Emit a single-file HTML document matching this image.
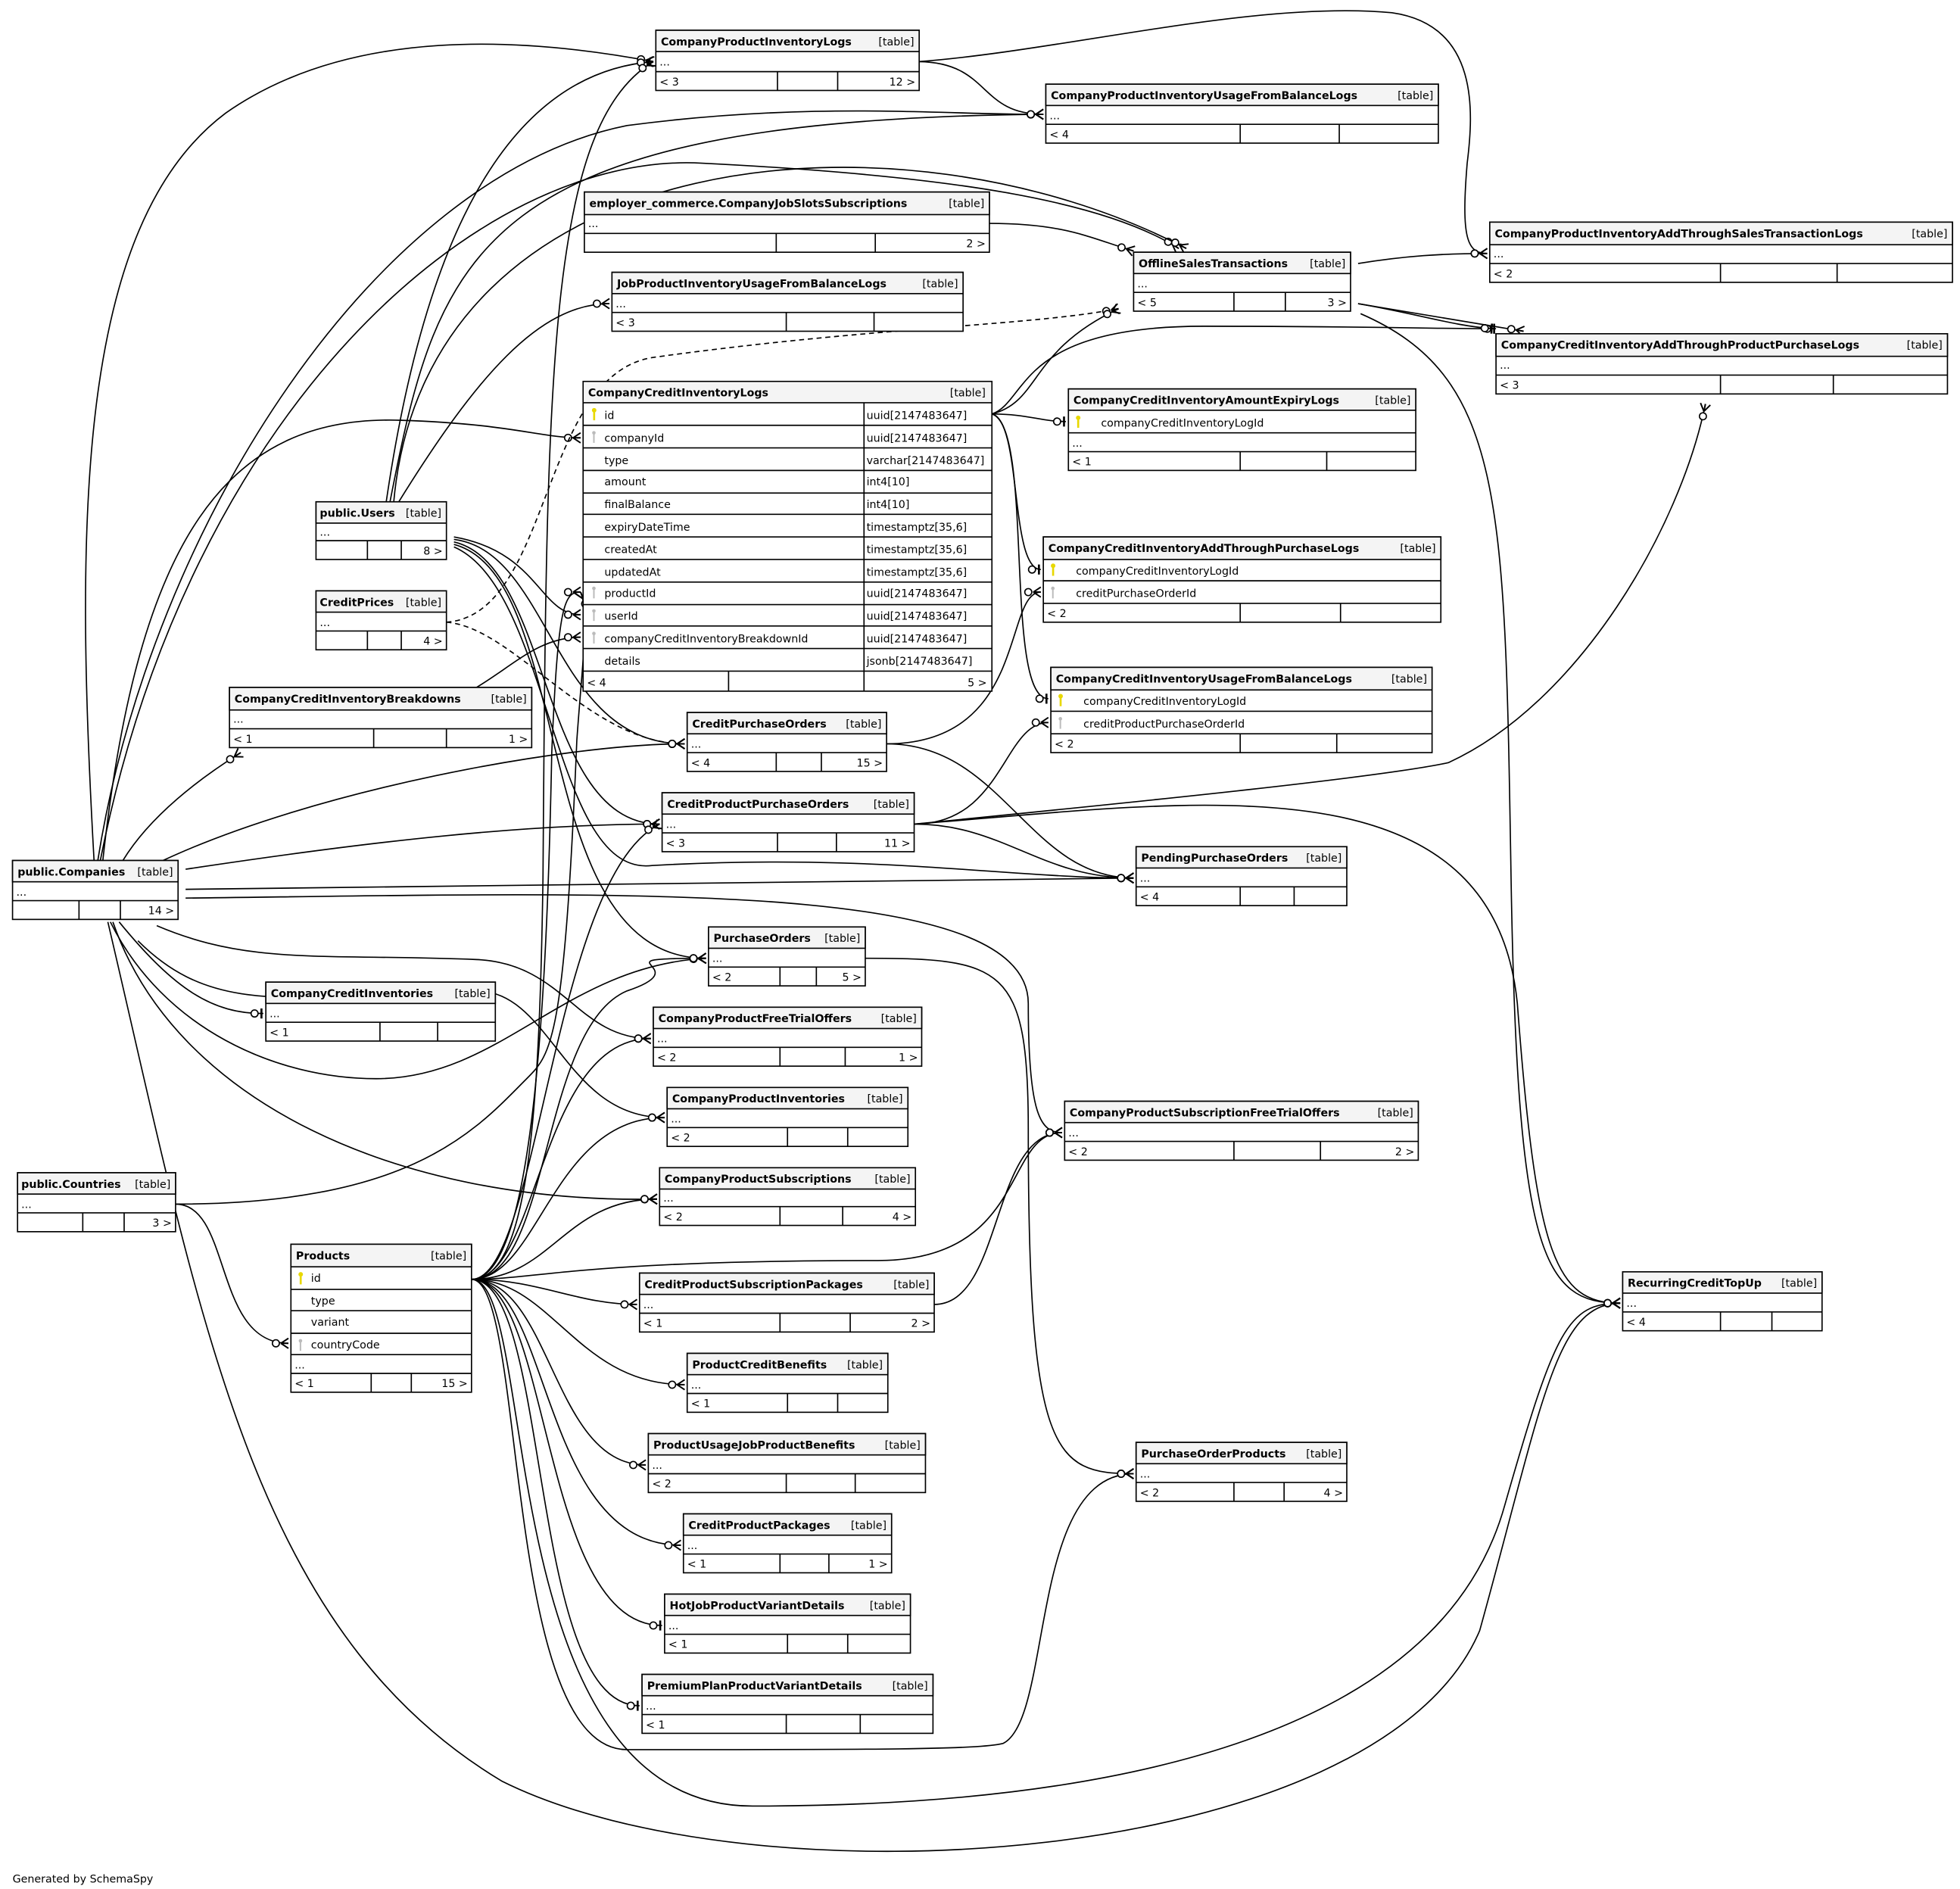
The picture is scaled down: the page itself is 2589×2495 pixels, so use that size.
<!DOCTYPE html>
<html><head><meta charset="utf-8"><style>
html,body{margin:0;padding:0;background:#fff}
svg{display:block}
text{font-family:"DejaVu Sans","Liberation Sans",sans-serif;font-size:8.6px;fill:#000}
.t{font-weight:bold}
.e{text-anchor:end}
.ln path{fill:none;stroke:#000;stroke-width:1}
.tb rect,.tb line{stroke:#000;stroke-width:1}
.tb .k,.tb .f{stroke:none}
.tb .k{fill:#e8d800}
.tb .f{fill:#bbb}
</style></head><body>
<svg width="2589" height="2495" viewBox="0 0 1563 1506" xmlns="http://www.w3.org/2000/svg">
<defs>
<marker id="m" markerUnits="userSpaceOnUse" markerWidth="16" markerHeight="12" viewBox="-13 -6 16 12" refX="0" refY="0" orient="auto" overflow="visible">
<circle cx="-10" cy="0" r="2.8" fill="#fff" stroke="#000" stroke-width="1"/>
<path d="M-6,0 L0,-4 M-6,0 L0,0 M-6,0 L0,4" stroke="#000" stroke-width="1.2" fill="none"/>
</marker>
<marker id="o" markerUnits="userSpaceOnUse" markerWidth="16" markerHeight="12" viewBox="-13 -6 16 12" refX="0" refY="0" orient="auto" overflow="visible">
<circle cx="-7" cy="0" r="2.8" fill="#fff" stroke="#000" stroke-width="1"/>
<path d="M-1.5,-4 L-1.5,4" stroke="#000" stroke-width="1.6"/>
</marker>
</defs>
<rect width="1563" height="1506" fill="#fff"/>

<g class="ln">
<path marker-end="url(#m)" d="M75,686 C60,420 60,180 180,90 C280,20 420,30 521,49"/>
<path marker-end="url(#m)" d="M78,686 C120,420 300,140 500,100 C650,80 760,92 832,91"/>
<path marker-end="url(#m)" d="M80,686 C150,330 380,120 560,130 C760,140 880,160 940,198"/>
<path marker-end="url(#m)" d="M82,686 C110,430 180,330 320,335 C410,338 430,349 463,349"/>
<path marker-end="url(#m)" d="M98,686 C120,650 160,620 192,600"/>
<path marker-end="url(#m)" d="M130,686 C250,630 450,593 546,593"/>
<path marker-end="url(#m)" d="M148,693 C300,670 420,657 526,657"/>
<path marker-end="url(#m)" d="M148,709 L904,700"/>
<path marker-end="url(#m)" d="M148,716 C500,712 820,700 820,800 C820,890 830,903 847,903"/>
<path marker-end="url(#o)" d="M95,735 C140,790 170,808 210,808"/>
<path marker-end="url(#m)" d="M125,738 C200,770 260,760 380,765 C450,768 460,828 519,828"/>
<path marker-end="url(#m)" d="M110,750 C170,810 230,795 380,790 C440,790 450,891 530,891"/>
<path marker-end="url(#m)" d="M90,735 C140,880 320,960 524,956"/>
<path marker-end="url(#m)" d="M88,735 C130,820 220,860 300,860 C400,860 450,770 563,764"/>
<path marker-end="url(#m)" d="M86,735 C160,1050 200,1300 400,1420 C600,1520 1100,1490 1180,1300 C1230,1120 1240,1039 1292,1039"/>
<path marker-end="url(#m)" d="M308,400 C330,250 380,60 521,49"/>
<path marker-end="url(#m)" d="M311,400 C350,200 380,95 832,91"/>
<path marker-end="url(#m)" d="M314,400 C340,110 720,80 946,198"/>
<path marker-end="url(#m)" d="M318,400 C380,300 430,242 486,242"/>
<path marker-end="url(#m)" d="M362,428 C430,440 430,490 463,490"/>
<path marker-end="url(#m)" d="M362,430 C440,440 440,593 546,593"/>
<path marker-end="url(#m)" d="M362,432 C440,450 430,657 526,657"/>
<path marker-end="url(#m)" d="M362,434 C460,460 420,764 563,764"/>
<path marker-end="url(#m)" d="M362,436 C440,470 440,700 520,690 C700,680 800,700 904,700"/>
<path stroke-dasharray="4,3" marker-end="url(#m)" d="M356,496 C440,490 430,300 520,285 C700,260 820,260 892,246"/>
<path stroke-dasharray="4,3" marker-end="url(#m)" d="M356,496 C410,500 470,593 546,593"/>
<path marker-end="url(#m)" d="M380,548 C410,530 430,508 463,508"/>
<path marker-end="url(#m)" d="M140,960 C185,960 170,1071 230,1071"/>
<path marker-end="url(#m)" d="M140,960 C330,960 380,900 420,860 C440,840 450,830 460,590 C465,520 470,490 463,472"/>
<path marker-end="url(#m)" d="M376,1020 C420,1020 430,900 433,700 C436,300 436,100 521,49"/>
<path marker-end="url(#m)" d="M376,1020 C425,1020 436,800 440,600 C445,480 450,472 463,472"/>
<path marker-end="url(#m)" d="M376,1020 C430,1020 440,700 526,657"/>
<path marker-end="url(#m)" d="M376,1020 C430,1020 430,828 519,828"/>
<path marker-end="url(#m)" d="M376,1020 C430,1020 440,891 530,891"/>
<path marker-end="url(#m)" d="M376,1020 C440,1020 450,956 524,956"/>
<path marker-end="url(#m)" d="M376,1020 C430,1020 460,1005 700,1005 C820,1005 800,903 847,903"/>
<path marker-end="url(#m)" d="M376,1020 C430,1020 460,1040 508,1040"/>
<path marker-end="url(#m)" d="M376,1020 C440,1020 460,1104 546,1104"/>
<path marker-end="url(#m)" d="M376,1020 C440,1020 440,1168 515,1168"/>
<path marker-end="url(#m)" d="M376,1020 C440,1020 430,1232 543,1232"/>
<path marker-end="url(#o)" d="M376,1020 C440,1020 430,1296 528,1296"/>
<path marker-end="url(#o)" d="M376,1020 C440,1020 420,1360 510,1360"/>
<path marker-end="url(#m)" d="M376,1020 C420,1020 400,1395 500,1395 C700,1395 780,1395 800,1390 C840,1370 820,1175 904,1175"/>
<path marker-end="url(#m)" d="M376,1020 C430,1020 390,1440 600,1440 C900,1440 1150,1380 1200,1200 C1240,1060 1250,1039 1292,1039"/>
<path marker-end="url(#m)" d="M376,1020 C440,1020 430,820 500,790 C560,770 470,764 563,764"/>
<path marker-end="url(#o)" d="M791,330 C820,330 830,336 850,336"/>
<path marker-end="url(#o)" d="M791,330 C815,335 805,454 830,454"/>
<path marker-end="url(#o)" d="M791,330 C825,340 800,557 836,557"/>
<path marker-end="url(#m)" d="M791,330 C830,320 820,280 892,246"/>
<path marker-end="url(#o)" d="M791,330 C820,320 810,260 960,260 C1080,260 1150,262 1193,262"/>
<path marker-end="url(#m)" d="M707,593 C820,593 800,472 830,472"/>
<path marker-end="url(#m)" d="M707,593 C800,593 820,700 904,700"/>
<path marker-end="url(#m)" d="M729,657 C800,657 800,576 836,576"/>
<path marker-end="url(#m)" d="M729,657 C900,640 1100,620 1155,608 C1260,560 1340,420 1360,322"/>
<path marker-end="url(#m)" d="M729,657 C800,657 830,700 904,700"/>
<path marker-end="url(#m)" d="M729,657 C950,640 1190,600 1210,800 C1225,1000 1240,1039 1292,1039"/>
<path marker-end="url(#m)" d="M733,49 C790,50 780,91 832,91"/>
<path marker-end="url(#m)" d="M733,49 C850,40 1000,0 1110,10 C1180,20 1175,90 1170,130 C1165,190 1170,202 1186,202"/>
<path marker-end="url(#m)" d="M1083,210 C1120,204 1150,202 1186,202"/>
<path marker-end="url(#o)" d="M1083,242 C1130,250 1160,260 1191,262"/>
<path marker-end="url(#m)" d="M1083,242 C1130,250 1180,258 1215,264"/>
<path marker-end="url(#m)" d="M1085,250 C1200,300 1200,400 1205,700 C1210,1000 1230,1039 1292,1039"/>
<path marker-end="url(#m)" d="M789,178 C850,178 870,190 904,200"/>
<path marker-end="url(#m)" d="M690,764 C800,764 820,770 820,900 C820,1160 840,1175 904,1175"/>
<path marker-end="url(#m)" d="M745,1040 C800,1040 790,903 847,903"/>
</g>

<g class="tb">
<g transform="translate(523,24)"><rect width="210" height="48" fill="#fff"/><rect width="210" height="17" fill="#f4f4f4"/><line x1="0" y1="33" x2="210" y2="33"/><line x1="97" y1="33" x2="97" y2="48"/><line x1="145" y1="33" x2="145" y2="48"/><text class="t" x="4" y="12">CompanyProductInventoryLogs</text><text class="e" x="206" y="12">[table]</text><text x="3" y="28">...</text><text x="3" y="44">&lt; 3</text><text class="e" x="207" y="44">12 &gt;</text></g>

<g transform="translate(834,67)"><rect width="313" height="47" fill="#fff"/><rect width="313" height="17" fill="#f4f4f4"/><line x1="0" y1="32" x2="313" y2="32"/><line x1="155" y1="32" x2="155" y2="47"/><line x1="234" y1="32" x2="234" y2="47"/><text class="t" x="4" y="12">CompanyProductInventoryUsageFromBalanceLogs</text><text class="e" x="309" y="12">[table]</text><text x="3" y="28">...</text><text x="3" y="43">&lt; 4</text></g>

<g transform="translate(466,153)"><rect width="323" height="48" fill="#fff"/><rect width="323" height="18" fill="#f4f4f4"/><line x1="0" y1="33" x2="323" y2="33"/><line x1="153" y1="33" x2="153" y2="48"/><line x1="232" y1="33" x2="232" y2="48"/><text class="t" x="4" y="12">employer_commerce.CompanyJobSlotsSubscriptions</text><text class="e" x="319" y="12">[table]</text><text x="3" y="28">...</text><text class="e" x="320" y="44">2 &gt;</text></g>

<g transform="translate(488,217)"><rect width="280" height="47" fill="#fff"/><rect width="280" height="17" fill="#f4f4f4"/><line x1="0" y1="32" x2="280" y2="32"/><line x1="139" y1="32" x2="139" y2="47"/><line x1="209" y1="32" x2="209" y2="47"/><text class="t" x="4" y="12">JobProductInventoryUsageFromBalanceLogs</text><text class="e" x="276" y="12">[table]</text><text x="3" y="28">...</text><text x="3" y="43">&lt; 3</text></g>

<g transform="translate(904,201)"><rect width="173" height="47" fill="#fff"/><rect width="173" height="17" fill="#f4f4f4"/><line x1="0" y1="32" x2="173" y2="32"/><line x1="80" y1="32" x2="80" y2="47"/><line x1="121" y1="32" x2="121" y2="47"/><text class="t" x="4" y="12">OfflineSalesTransactions</text><text class="e" x="169" y="12">[table]</text><text x="3" y="28">...</text><text x="3" y="43">&lt; 5</text><text class="e" x="170" y="43">3 &gt;</text></g>

<g transform="translate(1188,177)"><rect width="369" height="48" fill="#fff"/><rect width="369" height="18" fill="#f4f4f4"/><line x1="0" y1="33" x2="369" y2="33"/><line x1="184" y1="33" x2="184" y2="48"/><line x1="277" y1="33" x2="277" y2="48"/><text class="t" x="4" y="12">CompanyProductInventoryAddThroughSalesTransactionLogs</text><text class="e" x="365" y="12">[table]</text><text x="3" y="28">...</text><text x="3" y="44">&lt; 2</text></g>

<g transform="translate(1193,266)"><rect width="360" height="48" fill="#fff"/><rect width="360" height="18" fill="#f4f4f4"/><line x1="0" y1="33" x2="360" y2="33"/><line x1="179" y1="33" x2="179" y2="48"/><line x1="269" y1="33" x2="269" y2="48"/><text class="t" x="4" y="12">CompanyCreditInventoryAddThroughProductPurchaseLogs</text><text class="e" x="356" y="12">[table]</text><text x="3" y="28">...</text><text x="3" y="44">&lt; 3</text></g>

<g transform="translate(465,304)">
<rect width="326" height="247" fill="#fff" stroke-width="2.4"/>
<rect x="1" y="1" width="324" height="16" fill="#f4f4f4" style="stroke:none"/>
<line x1="0" y1="17" x2="326" y2="17"/>
<line x1="0" y1="35" x2="326" y2="35"/><line x1="0" y1="53" x2="326" y2="53"/><line x1="0" y1="71" x2="326" y2="71"/><line x1="0" y1="89" x2="326" y2="89"/><line x1="0" y1="106" x2="326" y2="106"/><line x1="0" y1="124" x2="326" y2="124"/><line x1="0" y1="142" x2="326" y2="142"/><line x1="0" y1="160" x2="326" y2="160"/><line x1="0" y1="178" x2="326" y2="178"/><line x1="0" y1="195" x2="326" y2="195"/><line x1="0" y1="213" x2="326" y2="213"/><line x1="0" y1="231" x2="326" y2="231"/>
<line x1="224" y1="17" x2="224" y2="247"/><line x1="116" y1="231" x2="116" y2="247"/>
<text class="t" x="4" y="12">CompanyCreditInventoryLogs</text><text class="e" x="321" y="12">[table]</text>
<text x="17" y="30">id</text><text x="17" y="48">companyId</text><text x="17" y="66">type</text><text x="17" y="83">amount</text><text x="17" y="101">finalBalance</text><text x="17" y="119">expiryDateTime</text><text x="17" y="137">createdAt</text><text x="17" y="155">updatedAt</text><text x="17" y="172">productId</text><text x="17" y="190">userId</text><text x="17" y="208">companyCreditInventoryBreakdownId</text><text x="17" y="226">details</text>
<text x="226" y="30">uuid[2147483647]</text><text x="226" y="48">uuid[2147483647]</text><text x="226" y="66">varchar[2147483647]</text><text x="226" y="83">int4[10]</text><text x="226" y="101">int4[10]</text><text x="226" y="119">timestamptz[35,6]</text><text x="226" y="137">timestamptz[35,6]</text><text x="226" y="155">timestamptz[35,6]</text><text x="226" y="172">uuid[2147483647]</text><text x="226" y="190">uuid[2147483647]</text><text x="226" y="208">uuid[2147483647]</text><text x="226" y="226">jsonb[2147483647]</text>
<text x="3" y="243">&lt; 4</text><text class="e" x="322" y="243">5 &gt;</text>
<rect class="k" x="8" y="23" width="1.6" height="8"/><circle class="k" cx="8.8" cy="23" r="1.8"/>
<rect class="f" x="8" y="41" width="1.2" height="8"/><circle class="f" cx="8.6" cy="41" r="1.4"/>
<rect class="f" x="8" y="165" width="1.2" height="8"/><circle class="f" cx="8.6" cy="165" r="1.4"/>
<rect class="f" x="8" y="183" width="1.2" height="8"/><circle class="f" cx="8.6" cy="183" r="1.4"/>
<rect class="f" x="8" y="201" width="1.2" height="8"/><circle class="f" cx="8.6" cy="201" r="1.4"/>
</g>

<g transform="translate(852,310)"><rect width="277" height="65" fill="#fff"/><rect width="277" height="17" fill="#f4f4f4"/><line x1="0" y1="35" x2="277" y2="35"/><line x1="0" y1="50" x2="277" y2="50"/><line x1="137" y1="50" x2="137" y2="65"/><line x1="206" y1="50" x2="206" y2="65"/><text class="t" x="4" y="12">CompanyCreditInventoryAmountExpiryLogs</text><text class="e" x="273" y="12">[table]</text><text x="26" y="30">companyCreditInventoryLogId</text><text x="3" y="46">...</text><text x="3" y="61">&lt; 1</text><rect class="k" x="7" y="23" width="1.6" height="8"/><circle class="k" cx="7.8" cy="23" r="1.8"/></g>

<g transform="translate(832,428)"><rect width="317" height="68" fill="#fff"/><rect width="317" height="18" fill="#f4f4f4"/><line x1="0" y1="35" x2="317" y2="35"/><line x1="0" y1="53" x2="317" y2="53"/><line x1="157" y1="53" x2="157" y2="68"/><line x1="237" y1="53" x2="237" y2="68"/><text class="t" x="4" y="12">CompanyCreditInventoryAddThroughPurchaseLogs</text><text class="e" x="313" y="12">[table]</text><text x="26" y="30">companyCreditInventoryLogId</text><text x="26" y="48">creditPurchaseOrderId</text><text x="3" y="64">&lt; 2</text><rect class="k" x="7" y="23" width="1.6" height="8"/><circle class="k" cx="7.8" cy="23" r="1.8"/><rect class="f" x="7" y="41" width="1.2" height="8"/><circle class="f" cx="7.6" cy="41" r="1.4"/></g>

<g transform="translate(838,532)"><rect width="304" height="68" fill="#fff"/><rect width="304" height="18" fill="#f4f4f4"/><line x1="0" y1="35" x2="304" y2="35"/><line x1="0" y1="53" x2="304" y2="53"/><line x1="151" y1="53" x2="151" y2="68"/><line x1="228" y1="53" x2="228" y2="68"/><text class="t" x="4" y="12">CompanyCreditInventoryUsageFromBalanceLogs</text><text class="e" x="300" y="12">[table]</text><text x="26" y="30">companyCreditInventoryLogId</text><text x="26" y="48">creditProductPurchaseOrderId</text><text x="3" y="64">&lt; 2</text><rect class="k" x="7" y="23" width="1.6" height="8"/><circle class="k" cx="7.8" cy="23" r="1.8"/><rect class="f" x="7" y="41" width="1.2" height="8"/><circle class="f" cx="7.6" cy="41" r="1.4"/></g>

<g transform="translate(252,400)"><rect width="104" height="46" fill="#fff"/><rect width="104" height="17" fill="#f4f4f4"/><line x1="0" y1="31" x2="104" y2="31"/><line x1="41" y1="31" x2="41" y2="46"/><line x1="68" y1="31" x2="68" y2="46"/><text class="t" x="3" y="12">public.Users</text><text class="e" x="100" y="12">[table]</text><text x="3" y="27">...</text><text class="e" x="101" y="42">8 &gt;</text></g>

<g transform="translate(252,471)"><rect width="104" height="47" fill="#fff"/><rect width="104" height="17" fill="#f4f4f4"/><line x1="0" y1="32" x2="104" y2="32"/><line x1="41" y1="32" x2="41" y2="47"/><line x1="68" y1="32" x2="68" y2="47"/><text class="t" x="3" y="12">CreditPrices</text><text class="e" x="100" y="12">[table]</text><text x="3" y="28">...</text><text class="e" x="101" y="43">4 &gt;</text></g>

<g transform="translate(183,548)"><rect width="241" height="48" fill="#fff"/><rect width="241" height="18" fill="#f4f4f4"/><line x1="0" y1="33" x2="241" y2="33"/><line x1="115" y1="33" x2="115" y2="48"/><line x1="173" y1="33" x2="173" y2="48"/><text class="t" x="4" y="12">CompanyCreditInventoryBreakdowns</text><text class="e" x="237" y="12">[table]</text><text x="3" y="28">...</text><text x="3" y="44">&lt; 1</text><text class="e" x="238" y="44">1 &gt;</text></g>

<g transform="translate(548,568)"><rect width="159" height="47" fill="#fff"/><rect width="159" height="17" fill="#f4f4f4"/><line x1="0" y1="32" x2="159" y2="32"/><line x1="71" y1="32" x2="71" y2="47"/><line x1="107" y1="32" x2="107" y2="47"/><text class="t" x="4" y="12">CreditPurchaseOrders</text><text class="e" x="155" y="12">[table]</text><text x="3" y="28">...</text><text x="3" y="43">&lt; 4</text><text class="e" x="156" y="43">15 &gt;</text></g>

<g transform="translate(528,632)"><rect width="201" height="47" fill="#fff"/><rect width="201" height="17" fill="#f4f4f4"/><line x1="0" y1="32" x2="201" y2="32"/><line x1="92" y1="32" x2="92" y2="47"/><line x1="139" y1="32" x2="139" y2="47"/><text class="t" x="4" y="12">CreditProductPurchaseOrders</text><text class="e" x="197" y="12">[table]</text><text x="3" y="28">...</text><text x="3" y="43">&lt; 3</text><text class="e" x="198" y="43">11 &gt;</text></g>

<g transform="translate(10,686)"><rect width="132" height="47" fill="#fff"/><rect width="132" height="17" fill="#f4f4f4"/><line x1="0" y1="32" x2="132" y2="32"/><line x1="53" y1="32" x2="53" y2="47"/><line x1="86" y1="32" x2="86" y2="47"/><text class="t" x="4" y="12">public.Companies</text><text class="e" x="128" y="12">[table]</text><text x="3" y="28">...</text><text class="e" x="129" y="43">14 &gt;</text></g>

<g transform="translate(906,675)"><rect width="168" height="47" fill="#fff"/><rect width="168" height="17" fill="#f4f4f4"/><line x1="0" y1="32" x2="168" y2="32"/><line x1="83" y1="32" x2="83" y2="47"/><line x1="126" y1="32" x2="126" y2="47"/><text class="t" x="4" y="12">PendingPurchaseOrders</text><text class="e" x="164" y="12">[table]</text><text x="3" y="28">...</text><text x="3" y="43">&lt; 4</text></g>

<g transform="translate(565,739)"><rect width="125" height="47" fill="#fff"/><rect width="125" height="17" fill="#f4f4f4"/><line x1="0" y1="32" x2="125" y2="32"/><line x1="57" y1="32" x2="57" y2="47"/><line x1="86" y1="32" x2="86" y2="47"/><text class="t" x="4" y="12">PurchaseOrders</text><text class="e" x="121" y="12">[table]</text><text x="3" y="28">...</text><text x="3" y="43">&lt; 2</text><text class="e" x="122" y="43">5 &gt;</text></g>

<g transform="translate(212,783)"><rect width="183" height="47" fill="#fff"/><rect width="183" height="17" fill="#f4f4f4"/><line x1="0" y1="32" x2="183" y2="32"/><line x1="91" y1="32" x2="91" y2="47"/><line x1="137" y1="32" x2="137" y2="47"/><text class="t" x="4" y="12">CompanyCreditInventories</text><text class="e" x="179" y="12">[table]</text><text x="3" y="28">...</text><text x="3" y="43">&lt; 1</text></g>

<g transform="translate(521,803)"><rect width="214" height="47" fill="#fff"/><rect width="214" height="17" fill="#f4f4f4"/><line x1="0" y1="32" x2="214" y2="32"/><line x1="101" y1="32" x2="101" y2="47"/><line x1="153" y1="32" x2="153" y2="47"/><text class="t" x="4" y="12">CompanyProductFreeTrialOffers</text><text class="e" x="210" y="12">[table]</text><text x="3" y="28">...</text><text x="3" y="43">&lt; 2</text><text class="e" x="211" y="43">1 &gt;</text></g>

<g transform="translate(532,867)"><rect width="192" height="47" fill="#fff"/><rect width="192" height="17" fill="#f4f4f4"/><line x1="0" y1="32" x2="192" y2="32"/><line x1="96" y1="32" x2="96" y2="47"/><line x1="144" y1="32" x2="144" y2="47"/><text class="t" x="4" y="12">CompanyProductInventories</text><text class="e" x="188" y="12">[table]</text><text x="3" y="28">...</text><text x="3" y="43">&lt; 2</text></g>

<g transform="translate(849,878)"><rect width="282" height="47" fill="#fff"/><rect width="282" height="17" fill="#f4f4f4"/><line x1="0" y1="32" x2="282" y2="32"/><line x1="135" y1="32" x2="135" y2="47"/><line x1="204" y1="32" x2="204" y2="47"/><text class="t" x="4" y="12">CompanyProductSubscriptionFreeTrialOffers</text><text class="e" x="278" y="12">[table]</text><text x="3" y="28">...</text><text x="3" y="43">&lt; 2</text><text class="e" x="279" y="43">2 &gt;</text></g>

<g transform="translate(14,935)"><rect width="126" height="47" fill="#fff"/><rect width="126" height="17" fill="#f4f4f4"/><line x1="0" y1="32" x2="126" y2="32"/><line x1="52" y1="32" x2="52" y2="47"/><line x1="85" y1="32" x2="85" y2="47"/><text class="t" x="3" y="12">public.Countries</text><text class="e" x="122" y="12">[table]</text><text x="3" y="28">...</text><text class="e" x="123" y="43">3 &gt;</text></g>

<g transform="translate(526,931)"><rect width="204" height="46" fill="#fff"/><rect width="204" height="17" fill="#f4f4f4"/><line x1="0" y1="31" x2="204" y2="31"/><line x1="96" y1="31" x2="96" y2="46"/><line x1="146" y1="31" x2="146" y2="46"/><text class="t" x="4" y="12">CompanyProductSubscriptions</text><text class="e" x="200" y="12">[table]</text><text x="3" y="27">...</text><text x="3" y="42">&lt; 2</text><text class="e" x="201" y="42">4 &gt;</text></g>

<g transform="translate(232,992)"><rect width="144" height="118" fill="#fff"/><rect width="144" height="18" fill="#f4f4f4"/><line x1="0" y1="36" x2="144" y2="36"/><line x1="0" y1="53" x2="144" y2="53"/><line x1="0" y1="71" x2="144" y2="71"/><line x1="0" y1="88" x2="144" y2="88"/><line x1="0" y1="103" x2="144" y2="103"/><line x1="64" y1="103" x2="64" y2="118"/><line x1="96" y1="103" x2="96" y2="118"/><text class="t" x="4" y="12">Products</text><text class="e" x="140" y="12">[table]</text><text x="16" y="30">id</text><text x="16" y="48">type</text><text x="16" y="65">variant</text><text x="16" y="83">countryCode</text><text x="3" y="99">...</text><text x="3" y="114">&lt; 1</text><text class="e" x="141" y="114">15 &gt;</text><rect class="k" x="7" y="24" width="1.6" height="8"/><circle class="k" cx="7.8" cy="24" r="1.8"/><rect class="f" x="7" y="77" width="1.2" height="8"/><circle class="f" cx="7.6" cy="77" r="1.4"/></g>

<g transform="translate(510,1015)"><rect width="235" height="47" fill="#fff"/><rect width="235" height="17" fill="#f4f4f4"/><line x1="0" y1="32" x2="235" y2="32"/><line x1="112" y1="32" x2="112" y2="47"/><line x1="168" y1="32" x2="168" y2="47"/><text class="t" x="4" y="12">CreditProductSubscriptionPackages</text><text class="e" x="231" y="12">[table]</text><text x="3" y="28">...</text><text x="3" y="43">&lt; 1</text><text class="e" x="232" y="43">2 &gt;</text></g>

<g transform="translate(1294,1014)"><rect width="159" height="47" fill="#fff"/><rect width="159" height="17" fill="#f4f4f4"/><line x1="0" y1="32" x2="159" y2="32"/><line x1="78" y1="32" x2="78" y2="47"/><line x1="119" y1="32" x2="119" y2="47"/><text class="t" x="4" y="12">RecurringCreditTopUp</text><text class="e" x="155" y="12">[table]</text><text x="3" y="28">...</text><text x="3" y="43">&lt; 4</text></g>

<g transform="translate(548,1079)"><rect width="160" height="47" fill="#fff"/><rect width="160" height="17" fill="#f4f4f4"/><line x1="0" y1="32" x2="160" y2="32"/><line x1="80" y1="32" x2="80" y2="47"/><line x1="120" y1="32" x2="120" y2="47"/><text class="t" x="4" y="12">ProductCreditBenefits</text><text class="e" x="156" y="12">[table]</text><text x="3" y="28">...</text><text x="3" y="43">&lt; 1</text></g>

<g transform="translate(517,1143)"><rect width="221" height="47" fill="#fff"/><rect width="221" height="17" fill="#f4f4f4"/><line x1="0" y1="32" x2="221" y2="32"/><line x1="110" y1="32" x2="110" y2="47"/><line x1="165" y1="32" x2="165" y2="47"/><text class="t" x="4" y="12">ProductUsageJobProductBenefits</text><text class="e" x="217" y="12">[table]</text><text x="3" y="28">...</text><text x="3" y="43">&lt; 2</text></g>

<g transform="translate(906,1150)"><rect width="168" height="47" fill="#fff"/><rect width="168" height="17" fill="#f4f4f4"/><line x1="0" y1="32" x2="168" y2="32"/><line x1="78" y1="32" x2="78" y2="47"/><line x1="118" y1="32" x2="118" y2="47"/><text class="t" x="4" y="12">PurchaseOrderProducts</text><text class="e" x="164" y="12">[table]</text><text x="3" y="28">...</text><text x="3" y="43">&lt; 2</text><text class="e" x="165" y="43">4 &gt;</text></g>

<g transform="translate(545,1207)"><rect width="166" height="47" fill="#fff"/><rect width="166" height="17" fill="#f4f4f4"/><line x1="0" y1="32" x2="166" y2="32"/><line x1="77" y1="32" x2="77" y2="47"/><line x1="116" y1="32" x2="116" y2="47"/><text class="t" x="4" y="12">CreditProductPackages</text><text class="e" x="162" y="12">[table]</text><text x="3" y="28">...</text><text x="3" y="43">&lt; 1</text><text class="e" x="163" y="43">1 &gt;</text></g>

<g transform="translate(530,1271)"><rect width="196" height="47" fill="#fff"/><rect width="196" height="17" fill="#f4f4f4"/><line x1="0" y1="32" x2="196" y2="32"/><line x1="98" y1="32" x2="98" y2="47"/><line x1="146" y1="32" x2="146" y2="47"/><text class="t" x="4" y="12">HotJobProductVariantDetails</text><text class="e" x="192" y="12">[table]</text><text x="3" y="28">...</text><text x="3" y="43">&lt; 1</text></g>

<g transform="translate(512,1335)"><rect width="232" height="47" fill="#fff"/><rect width="232" height="17" fill="#f4f4f4"/><line x1="0" y1="32" x2="232" y2="32"/><line x1="115" y1="32" x2="115" y2="47"/><line x1="174" y1="32" x2="174" y2="47"/><text class="t" x="4" y="12">PremiumPlanProductVariantDetails</text><text class="e" x="228" y="12">[table]</text><text x="3" y="28">...</text><text x="3" y="43">&lt; 1</text></g>
</g>

<text x="10" y="1501">Generated by SchemaSpy</text>
</svg>
</body></html>
